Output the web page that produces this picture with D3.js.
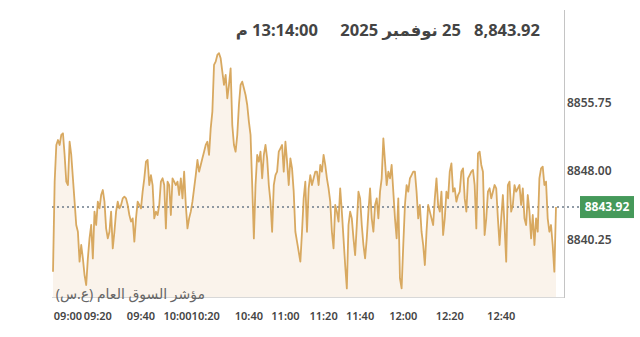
<!DOCTYPE html>
<html lang="ar">
<head>
<meta charset="UTF-8">
<script src="https://d3js.org/d3.v7.min.js"></script>
<title>TASI intraday</title>
<style>
    body { margin: 0; background: #fff; }
    svg { display: block; font-family: "Noto Sans", "DejaVu Sans", sans-serif; }
</style>
</head>
<body>
<svg id="chart"></svg>
<script>
// index points, left to right
const prices = [
    8836.61, 8846.79, 8850.94, 8851.50, 8850.94, 8852.07, 8852.26, 8849.81, 8846.79, 8846.41,
    8851.31, 8849.81, 8847.17, 8844.53, 8841.89, 8841.13, 8837.74, 8839.63, 8838.12, 8836.23,
    8835.10, 8838.12, 8840.38, 8841.89, 8838.12, 8843.40, 8841.89, 8844.53, 8843.77, 8845.28,
    8845.85, 8844.53, 8841.51, 8840.38, 8841.13, 8843.40, 8839.25, 8841.13, 8843.40, 8844.53,
    8843.77, 8844.15, 8844.90, 8845.09, 8844.90, 8844.15, 8843.02, 8842.27, 8842.64, 8840.00,
    8842.64, 8844.53, 8844.15, 8843.77, 8845.66, 8847.17, 8849.05, 8849.24, 8846.41, 8847.54,
    8846.41, 8842.64, 8843.40, 8843.02, 8844.15, 8846.79, 8847.17, 8846.41, 8841.51, 8846.79,
    8846.41, 8843.02, 8847.17, 8846.79, 8846.41, 8846.79,
    8845.28, 8847.17, 8844.90, 8847.92, 8844.15, 8841.51, 8842.64, 8843.40, 8844.53, 8846.04,
    8847.54, 8849.24, 8847.92, 8848.68, 8849.43, 8850.18, 8850.94, 8851.31, 8849.81, 8852.82,
    8854.71, 8859.99, 8860.36, 8861.12, 8861.31, 8860.74, 8859.23, 8857.73, 8858.86, 8856.22,
    8857.73, 8859.61, 8853.20, 8850.94, 8850.18, 8852.07, 8855.46, 8857.73, 8858.10, 8857.35,
    8856.59, 8855.46, 8853.58, 8852.07, 8846.41, 8840.38, 8846.41, 8849.81, 8849.05, 8850.18,
    8847.17, 8849.81, 8850.94, 8849.43, 8846.41, 8844.53, 8841.13, 8846.41, 8847.54, 8847.92,
    8850.18, 8850.56, 8850.94, 8847.92, 8851.31, 8849.05, 8846.41, 8849.43, 8848.30, 8845.66,
    8841.13, 8840.00, 8838.87, 8837.74, 8841.13, 8844.90, 8846.79,
    8841.13, 8846.04, 8847.54, 8846.41, 8847.17, 8847.92, 8847.92, 8846.41, 8848.68, 8847.92,
    8849.81, 8848.68, 8847.17, 8846.04, 8844.53, 8841.13, 8839.25, 8844.15, 8843.40, 8842.27,
    8846.04, 8843.40, 8840.38, 8837.36, 8834.72, 8841.89, 8843.40, 8842.64, 8840.38, 8838.49,
    8841.89, 8845.66, 8844.90, 8841.89, 8839.63, 8838.12, 8840.38, 8843.40, 8846.04, 8842.64,
    8841.13, 8844.15, 8844.90, 8842.64, 8845.66, 8847.17, 8851.69, 8849.05, 8846.41, 8847.92,
    8847.17, 8848.68, 8845.66, 8842.64, 8840.38, 8844.90, 8835.85, 8834.72, 8839.63, 8844.15,
    8846.41, 8845.66, 8847.17, 8847.54, 8847.92, 8847.92, 8845.66, 8842.64, 8844.15, 8841.13,
    8839.63, 8837.36, 8841.13, 8844.15, 8843.40, 8842.64, 8841.89,
    8844.90, 8847.17, 8844.15, 8843.40, 8845.66, 8840.76, 8842.64, 8845.66, 8844.90, 8847.92,
    8848.86, 8845.66, 8846.04, 8844.53, 8845.28, 8845.66, 8847.92, 8848.30, 8844.90, 8843.40,
    8847.17, 8847.54, 8847.92, 8848.11, 8846.41, 8841.51, 8850.00, 8850.18, 8848.68, 8847.92,
    8840.76, 8842.64, 8845.66, 8846.04, 8844.90, 8845.66, 8846.41, 8846.04, 8842.64, 8839.63,
    8842.64, 8845.28, 8841.89, 8837.74, 8846.41, 8846.79, 8843.40, 8844.15, 8846.41, 8845.66,
    8846.04, 8846.41, 8844.15, 8846.04, 8842.64, 8841.89, 8845.28, 8843.40, 8840.38, 8843.02,
    8839.63, 8842.64, 8841.13, 8847.17, 8848.30, 8848.49, 8846.41, 8846.79, 8842.64, 8841.13,
    8841.89, 8839.63, 8836.61, 8843.92
];

const tickLabels = ["09:00", "09:20", "09:40", "10:00", "10:20", "10:40", "11:00", "11:20", "11:40", "12:00", "12:20", "12:40"];
const tickIndex = [9, 27, 53, 75, 92, 118, 140, 163, 185, 211, 239, 270];
const yTicks = [8840.25, 8848.00, 8855.75];
const yDomain = [8833.75, 8866.2];
const lastPrice = 8843.92;
const headerPrice = "8,843.92";
const headerDate = "25 نوفمبر 2025";
const headerTime = "13:14:00 م";
const indexName = "مؤشر السوق العام (ع.س)";

const w = 640;
const h = 337;
const plotLeft = 53, plotRight = 556, plotTop = 10, plotBottom = 297, axisX = 564.5;

const svg = d3.select("#chart").attr("width", w).attr("height", h);

const x = d3.scaleLinear().domain([0, prices.length - 1]).range([plotLeft, plotRight]);
const y = d3.scaleLinear().domain(yDomain).range([plotBottom, plotTop]);

// area under the line
const area = d3.area()
    .x((d, i) => x(i))
    .y0(plotBottom)
    .y1(d => y(d));

svg.append("path")
   .datum(prices)
   .attr("d", area)
   .attr("fill", "#faf3eb");

// frame: bottom rule and right axis line
svg.append("line")
   .attr("x1", plotLeft - 1).attr("x2", axisX)
   .attr("y1", plotBottom + 0.5).attr("y2", plotBottom + 0.5)
   .attr("stroke", "#d8d8d8");
svg.append("line")
   .attr("x1", axisX).attr("x2", axisX)
   .attr("y1", plotTop).attr("y2", plotBottom + 1)
   .attr("stroke", "#c4c4c4");

// last price dotted line
svg.append("line")
   .attr("x1", plotLeft - 1).attr("x2", 580)
   .attr("y1", y(lastPrice)).attr("y2", y(lastPrice))
   .attr("stroke", "#6e7c8a")
   .attr("stroke-width", 1.4)
   .attr("stroke-dasharray", "2,3");

const line = d3.line()
    .x((d, i) => x(i))
    .y(d => y(d));

svg.append("path")
   .datum(prices)
   .attr("d", line)
   .attr("fill", "none")
   .attr("stroke", "#d4a050")
   .attr("stroke-opacity", 0.9)
   .attr("stroke-width", 1.8)
   .attr("stroke-linejoin", "round");

// y labels on the right
svg.selectAll(".ylab")
   .data(yTicks)
   .enter()
   .append("text")
   .attr("class", "ylab")
   .attr("x", 567)
   .attr("y", d => y(d))
   .attr("dy", "0.37em")
   .attr("font-size", 12)
   .attr("font-weight", 600)
   .attr("fill", "#4a4a4a")
   .text(d => d.toFixed(2));

// last price badge
svg.append("rect")
   .attr("x", 580).attr("y", y(lastPrice) - 11)
   .attr("width", 54).attr("height", 22)
   .attr("fill", "#45995a");
svg.append("text")
   .attr("x", 607).attr("y", y(lastPrice))
   .attr("dy", "0.37em")
   .attr("text-anchor", "middle")
   .attr("font-size", 12)
   .attr("font-weight", 700)
   .attr("fill", "#fff")
   .text(lastPrice.toFixed(2));

// time labels
svg.selectAll(".xlab")
   .data(tickLabels)
   .enter()
   .append("text")
   .attr("class", "xlab")
   .attr("x", (d, i) => x(tickIndex[i]))
   .attr("y", 319.5)
   .attr("text-anchor", "middle")
   .attr("font-size", 11)
   .attr("font-weight", 600)
   .attr("fill", "#444")
   .text(d => d);

// index name
svg.append("text")
   .attr("x", 205).attr("y", 299)
   .attr("direction", "rtl")
   .attr("text-anchor", "start")
   .attr("font-size", 14)
   .attr("fill", "#666")
   .text(indexName);

// header
const head = svg.append("g")
    .attr("font-size", 16.5)
    .attr("font-weight", 700)
    .attr("fill", "#444");
head.append("text")
    .attr("x", 540).attr("y", 36)
    .attr("text-anchor", "end")
    .text(headerPrice);
head.append("text")
    .attr("x", 461).attr("y", 36)
    .attr("direction", "rtl")
    .attr("text-anchor", "start")
    .text(headerDate);
head.append("text")
    .attr("x", 318).attr("y", 36)
    .attr("direction", "rtl")
    .attr("text-anchor", "start")
    .text(headerTime);
</script>
</body>
</html>
